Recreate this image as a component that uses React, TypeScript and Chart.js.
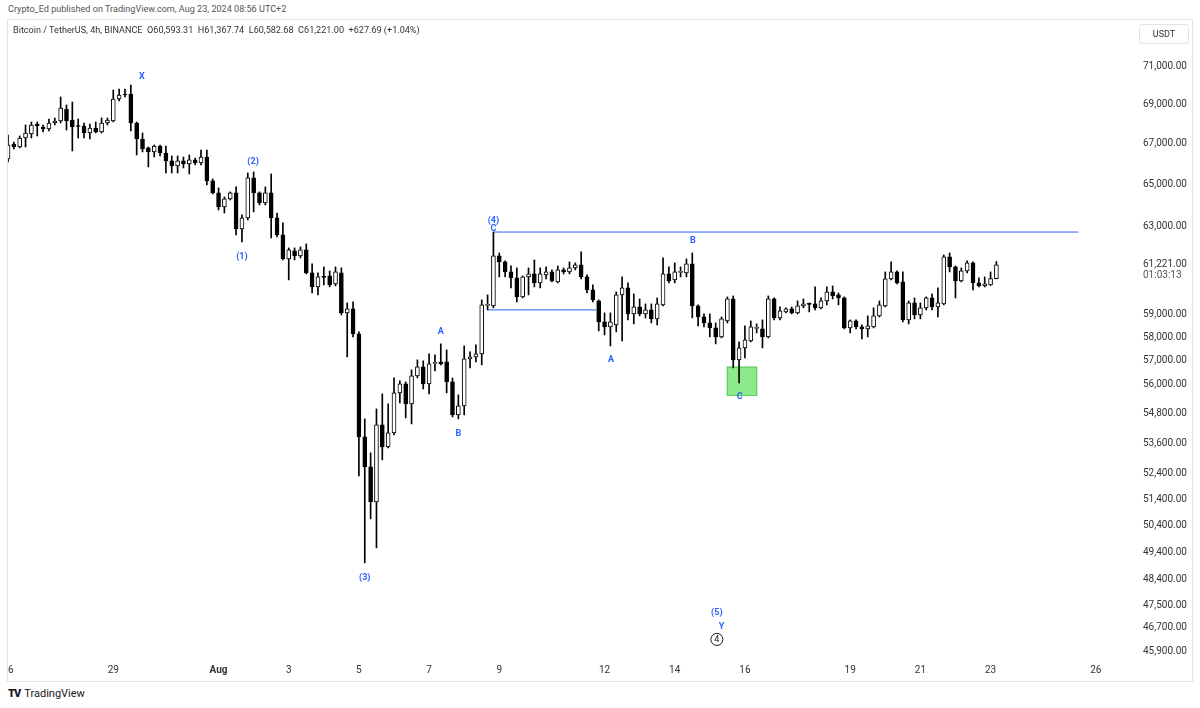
import React, { useEffect, useRef } from 'react';
import { Chart, registerables } from 'chart.js';

Chart.register(...registerables);

// ---- Data (BTC/USDT 4h, candle index 0 = Jul 26 02:00 UTC+2) ----
const openPrices = [
  66246, 66991, 66841, 67291, 67492, 67996, 67845, 67744, 68047, 68149,
  68762, 68200, 67920, 67895, 67542, 67794, 67593, 68047, 68149, 69276,
  69535, 69535, 68047, 67241, 66792, 66593, 66891, 66543, 66148, 65901,
  66148, 65999, 66197, 66049, 66345, 65169, 64589, 63917, 64300, 64589,
  62878, 63396, 65315, 64589, 64108, 64589, 63396, 62598, 61488, 61855,
  61625, 61901, 60850, 60218, 60690, 60713, 60353, 60850, 59062, 59239,
  58145, 53847, 52657, 51301, 54331, 53447, 54008, 55643, 56018, 55188,
  56352, 56732, 56018, 56880, 56944, 56944, 56101, 54738, 55106, 57071,
  57156, 57284, 59393, 59371, 61625, 61351, 60895, 60623, 59771, 60668,
  60804, 60398, 60759, 60895, 60443, 60986, 60895, 61077, 61214, 60668,
  60084, 59593, 58667, 58449, 58536, 59860, 60173, 59018, 59327, 59018,
  59194, 58799, 59415, 60804, 60533, 60872, 60850, 61259, 59371, 58886,
  58623, 58405, 58015, 58711, 59682, 57029, 57541, 57842, 58383, 58362,
  58015, 59682, 58842, 59106, 59239, 59062, 59371, 59460, 59460, 59283,
  59593, 59994, 59860, 59726, 58405, 58711, 58449, 58362, 58449, 58930,
  59371, 60578, 60895, 60443, 58755, 59504, 58974, 59283, 59726, 59327,
  59460, 61579, 61122, 60488, 60941, 61305, 60398, 60263, 60308, 60593.31,
];
const highPrices = [
  67441, 67091, 67391, 67946, 68098, 68098, 67946, 68250, 68301, 69379,
  68967, 69121, 68250, 68047, 67996, 68098, 68301, 68301, 69742, 69794,
  69794, 70002, 68098, 67542, 66841, 66941, 66941, 66891, 66394, 66394,
  66345, 66444, 66295, 66692, 66692, 65266, 64830, 64396, 64637, 64878,
  63538, 65559, 65608, 64637, 64878, 65510, 63632, 63160, 61994, 61994,
  62040, 62179, 61259, 60850, 61122, 60941, 61122, 61077, 59504, 59548,
  58232, 54575, 53209, 54983, 55600, 55188, 56268, 56143, 56101, 56605,
  57029, 56987, 57284, 57241, 57713, 57455, 56268, 55559, 57627, 57370,
  57670, 59637, 59860, 62733, 61763, 61396, 61168, 61077, 60713, 61077,
  61442, 61077, 61122, 60986, 61168, 61077, 61351, 61305, 61809, 60759,
  60308, 59637, 59062, 59062, 59994, 60668, 60398, 59905, 59682, 59460,
  59460, 59726, 61534, 61122, 61305, 61122, 61488, 61763, 59415, 59018,
  59018, 58623, 58886, 59771, 59815, 57799, 58492, 58711, 58580, 58755,
  59815, 59726, 59327, 59283, 59327, 59593, 59682, 59504, 60218, 59726,
  60218, 60263, 59949, 59771, 58755, 58755, 58536, 58930, 59283, 59593,
  60895, 61351, 60941, 60895, 59593, 59726, 59504, 59771, 59905, 60173,
  61671, 61763, 61168, 61077, 61396, 61351, 60623, 60668, 60895, 61367.74,
];
const lowPrices = [
  66098, 66742, 66792, 66841, 67291, 67391, 67593, 67643, 67946, 68047,
  67693, 66642, 67291, 67291, 67241, 67542, 67542, 67946, 68098, 69173,
  69379, 67643, 66444, 66593, 65852, 66345, 66394, 65559, 65559, 65559,
  65803, 65510, 65950, 65950, 64975, 64540, 63775, 63632, 64252, 62598,
  62272, 63302, 63680, 64013, 64013, 62458, 62505, 61442, 60533, 61442,
  61534, 60804, 59949, 59860, 60308, 60218, 60263, 58974, 57156, 58015,
  52304, 49021, 50655, 49571, 52932, 53407, 53927, 55230, 54616, 54371,
  56268, 55809, 55600, 56563, 56816, 55643, 54656, 54575, 54738, 56689,
  56944, 56816, 59194, 59283, 60668, 60668, 60173, 59548, 59726, 59860,
  60218, 60173, 60578, 60443, 60398, 60804, 60804, 60986, 60578, 59949,
  59548, 58275, 58101, 57627, 58232, 57842, 58755, 58580, 58930, 58842,
  58623, 58536, 59371, 60398, 60398, 60668, 60668, 58842, 58492, 58449,
  58015, 57713, 57972, 58623, 56689, 56060, 57114, 57799, 58188, 57541,
  57972, 58755, 58755, 59062, 59018, 59018, 59283, 59106, 59194, 59239,
  59415, 59682, 59415, 58362, 58188, 58362, 57929, 58015, 58405, 58886,
  59327, 60533, 60353, 58667, 58580, 58799, 58799, 59194, 59194, 58886,
  59415, 60895, 59726, 60443, 60850, 60084, 60218, 60218, 60280, 60582.68,
];
const closePrices = [
  66941, 66841, 67291, 67542, 67946, 67895, 67744, 68047, 68149, 68813,
  68149, 67845, 67870, 67542, 67794, 67593, 68047, 68200, 69276, 69483,
  69483, 68047, 67241, 66742, 66593, 66891, 66543, 66148, 65901, 66148,
  65999, 66197, 66049, 66345, 65169, 64589, 63917, 64300, 64589, 62878,
  63396, 65315, 64589, 64108, 64589, 63396, 62598, 61488, 61901, 61625,
  61901, 60850, 60218, 60668, 60645, 60308, 60895, 59062, 59239, 58145,
  53847, 52657, 51301, 54331, 53447, 54008, 55643, 56018, 55188, 56352,
  56732, 56018, 56859, 56901, 56859, 56101, 54738, 55106, 57071, 57156,
  57284, 59415, 59415, 61625, 61351, 60895, 60623, 59771, 60668, 60804,
  60398, 60804, 60895, 60488, 60986, 60895, 61077, 61214, 60668, 60084,
  59637, 58667, 58449, 58667, 59860, 60173, 59018, 59327, 59018, 59194,
  58799, 59460, 60804, 60488, 60895, 60895, 61259, 59371, 58886, 58623,
  58405, 58015, 58799, 59682, 57029, 57541, 57885, 58449, 58405, 58015,
  59682, 58842, 59150, 59239, 59062, 59371, 59460, 59437, 59283, 59593,
  59994, 59815, 59726, 58405, 58711, 58449, 58362, 58492, 58930, 59415,
  60578, 60895, 60398, 58755, 59504, 58974, 59283, 59726, 59327, 59504,
  61579, 61122, 60488, 60941, 61305, 60398, 60263, 60353, 60593, 61221.0,
];

const yTickValues = [71000, 69000, 67000, 65000, 63000, 61221, 59000, 58000, 57000, 56000, 54800, 53600, 52400, 51400, 50400, 49400, 48400, 47500, 46700, 45900];
const lastPrice = 61221;
const countdownText = '01:03:13';

const dayTickIndex = [0, 18, 36, 48, 60, 72, 84, 102, 114, 126, 144, 156, 168, 186];
const dayTickLabels = ['26', '29', 'Aug', '3', '5', '7', '9', '12', '14', '16', '19', '21', '23', '26'];
const monthTickIndex = 36;

const resistanceFrom = 83;
const resistanceTo = 183;
const resistancePrice = 62733;
const supportFrom = 82;
const supportTo = 100.6;
const supportPrice = 59194;

const zoneFrom = 122.9;
const zoneTo = 128.1;
const zoneLow = 55518;
const zoneHigh = 56744;

const waveLabelText = ['X', '(2)', '(1)', '(3)', 'A', 'B', '(4)', 'C', 'A', 'B', 'C', '(5)', 'Y'];
const waveLabelIndex = [22.9, 41.9, 40.0, 61.0, 74.0, 77.0, 83.0, 83.0, 103.1, 117.1, 125.1, 121.2, 122.0];
const waveLabelPrice = [70473, 66162, 61639, 48521, 58275, 54020, 63302, 62939, 57059, 62365, 55518, 47251, 46779];
const circledText = '4';
const circledIndex = 121.2;
const circledPrice = 46300;

const X_MIN = 0;
const X_MAX = 191.5;
const Y_MIN = 45697;
const Y_MAX = 73478;

const FONT = "Roboto, 'Liberation Sans', sans-serif";

const overlayPlugin = {
  id: 'overlay',
  beforeDatasetsDraw(chart: any) {
    const { ctx } = chart;
    const xs = chart.scales.x;
    const ys = chart.scales.y;
    const x0 = xs.getPixelForValue(zoneFrom);
    const x1 = xs.getPixelForValue(zoneTo);
    const y0 = ys.getPixelForValue(zoneHigh);
    const y1 = ys.getPixelForValue(zoneLow);
    ctx.save();
    ctx.fillStyle = 'rgba(120, 230, 120, 0.85)';
    ctx.fillRect(x0, y0, x1 - x0, y1 - y0);
    ctx.strokeStyle = 'rgba(80, 200, 80, 0.9)';
    ctx.lineWidth = 1;
    ctx.strokeRect(x0 + 0.5, y0 + 0.5, x1 - x0 - 1, y1 - y0 - 1);
    ctx.restore();
  },
  afterDatasetsDraw(chart: any) {
    const { ctx } = chart;
    const xs = chart.scales.x;
    const ys = chart.scales.y;
    ctx.save();
    ctx.font = `bold 9px ${FONT}`;
    ctx.fillStyle = '#2962ff';
    ctx.textAlign = 'center';
    ctx.textBaseline = 'middle';
    waveLabelText.forEach((t, k) => {
      ctx.fillText(t, xs.getPixelForValue(waveLabelIndex[k]), ys.getPixelForValue(waveLabelPrice[k]) + 1);
    });
    const cx = xs.getPixelForValue(circledIndex);
    const cy = ys.getPixelForValue(circledPrice);
    ctx.beginPath();
    ctx.arc(cx, cy, 6, 0, Math.PI * 2);
    ctx.strokeStyle = '#131722';
    ctx.lineWidth = 1;
    ctx.stroke();
    ctx.fillStyle = '#131722';
    ctx.font = `9px ${FONT}`;
    ctx.fillText(circledText, cx, cy + 0.5);
    ctx.restore();
  },
  afterDraw(chart: any) {
    const { ctx } = chart;
    const ys = chart.scales.y;
    ctx.save();
    ctx.font = `10px ${FONT}`;
    ctx.fillStyle = '#555';
    ctx.textAlign = 'left';
    ctx.textBaseline = 'middle';
    ctx.fillText(countdownText, ys.left + 15, ys.getPixelForValue(lastPrice) + 11);
    ctx.restore();
  },
};

export default function App() {
  const ref = useRef<HTMLCanvasElement | null>(null);

  useEffect(() => {
    if (!ref.current) return;
    const bodies = openPrices.map((o, i) => ({ x: i, y: [o, closePrices[i]] }));
    const wicks = lowPrices.map((l, i) => ({ x: i, y: [l, highPrices[i]] }));
    const bodyColors = openPrices.map((o, i) => (closePrices[i] >= o ? '#ffffff' : '#000000'));

    const chart = new Chart(ref.current, {
      type: 'bar',
      data: {
        datasets: [
          {
            type: 'bar',
            label: 'body',
            data: bodies as any,
            backgroundColor: bodyColors,
            borderColor: '#000000',
            borderWidth: 1,
            borderSkipped: false,
            barThickness: 4,
            minBarLength: 1,
            grouped: false,
            order: 0,
          } as any,
          {
            type: 'bar',
            label: 'wick',
            data: wicks as any,
            backgroundColor: '#000000',
            borderWidth: 0,
            barThickness: 1,
            grouped: false,
            order: 1,
          } as any,
          {
            type: 'line',
            label: 'resistance',
            data: [
              { x: resistanceFrom, y: resistancePrice },
              { x: resistanceTo, y: resistancePrice },
            ],
            borderColor: '#2962ff',
            borderWidth: 1,
            pointRadius: 0,
            order: 2,
          } as any,
          {
            type: 'line',
            label: 'support',
            data: [
              { x: supportFrom, y: supportPrice },
              { x: supportTo, y: supportPrice },
            ],
            borderColor: '#2962ff',
            borderWidth: 1,
            pointRadius: 0,
            order: 2,
          } as any,
        ],
      },
      options: {
        responsive: false,
        devicePixelRatio: 1,
        animation: false,
        events: [],
        layout: { padding: { left: 8, top: 20, right: 8, bottom: 27 } },
        plugins: { legend: { display: false }, tooltip: { enabled: false } },
        scales: {
          x: {
            type: 'linear',
            min: X_MIN,
            max: X_MAX,
            bounds: 'data',
            offset: false,
            grid: { display: false, drawTicks: false },
            border: { display: false },
            afterBuildTicks: (s: any) => {
              s.ticks = dayTickIndex.map((v) => ({ value: v }));
            },
            afterFit: (s: any) => {
              s.height = 24;
              s.paddingLeft = 0;
              s.paddingRight = 0;
            },
            ticks: {
              autoSkip: false,
              maxRotation: 0,
              padding: 7,
              color: '#333',
              font: (c: any) => ({
                family: FONT,
                size: 10,
                weight: c.tick && c.tick.value === monthTickIndex ? 'bold' : 'normal',
              }),
              callback: (v: any) => {
                const k = dayTickIndex.indexOf(Number(v));
                return k >= 0 ? dayTickLabels[k] : '';
              },
            },
          },
          y: {
            type: 'logarithmic',
            position: 'right',
            min: Y_MIN,
            max: Y_MAX,
            bounds: 'data',
            grid: { display: false, drawTicks: false },
            border: { display: false },
            afterBuildTicks: (s: any) => {
              s.ticks = yTickValues.map((v) => ({ value: v }));
            },
            afterFit: (s: any) => {
              s.width = 64;
              s.paddingTop = 0;
              s.paddingBottom = 0;
            },
            ticks: {
              autoSkip: false,
              padding: 15,
              color: '#333',
              font: { family: FONT, size: 10 },
              callback: (v: any) =>
                Number(v).toLocaleString('en-US', { minimumFractionDigits: 2, maximumFractionDigits: 2 }),
            },
          },
        },
      } as any,
      plugins: [overlayPlugin],
    });
    return () => chart.destroy();
  }, []);

  return (
    <div style={{ position: 'fixed', left: 0, top: 0, width: 1200, height: 708, background: '#fff', overflow: 'hidden', fontFamily: FONT }}>
      <div style={{ position: 'absolute', left: 8, top: 4, fontSize: 9.1, color: '#555', whiteSpace: 'nowrap' }}>
        Crypto_Ed published on TradingView.com, Aug 23, 2024 08:56 UTC+2
      </div>
      <div
        style={{
          position: 'absolute',
          left: 7,
          top: 19,
          width: 1186,
          height: 663,
          border: '1px solid #e0e3eb',
          boxSizing: 'border-box',
          overflow: 'hidden',
        }}
      >
        <canvas ref={ref} width={1200} height={708} style={{ position: 'absolute', left: -8, top: -20, width: 1200, height: 708 }} />
      </div>
      <div style={{ position: 'absolute', left: 13, top: 25, fontSize: 9.1, color: '#333', whiteSpace: 'nowrap' }}>
        Bitcoin / TetherUS, 4h, BINANCE&nbsp;&nbsp;O60,593.31&nbsp;&nbsp;H61,367.74&nbsp;&nbsp;L60,582.68&nbsp;&nbsp;C61,221.00&nbsp;&nbsp;+627.69 (+1.04%)
      </div>
      <div
        style={{
          position: 'absolute',
          left: 1139,
          top: 24,
          width: 50,
          height: 20,
          border: '1px solid #e0e3eb',
          borderRadius: 3,
          boxSizing: 'border-box',
          fontSize: 9,
          color: '#333',
          display: 'flex',
          alignItems: 'center',
          justifyContent: 'center',
        }}
      >
        USDT
      </div>
      <div style={{ position: 'absolute', left: 8, top: 687, fontSize: 11, color: '#131722', whiteSpace: 'nowrap', display: 'flex', alignItems: 'center' }}>
        <span style={{ fontWeight: 900, fontSize: 11, letterSpacing: -1, marginRight: 4 }}>TV</span>
        <span>TradingView</span>
      </div>
    </div>
  );
}
